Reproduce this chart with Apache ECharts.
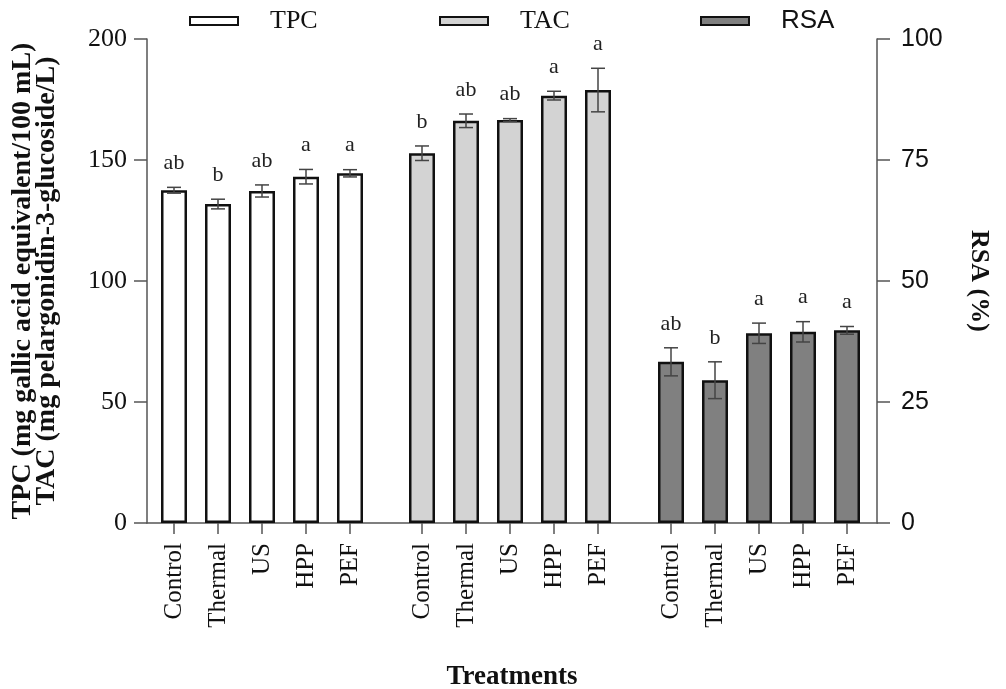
<!DOCTYPE html>
<html>
<head>
<meta charset="utf-8">
<script src="https://cdn.jsdelivr.net/npm/echarts@6/dist/echarts.min.js"></script>
<style>html,body{margin:0;padding:0;background:#fff;}#c{width:1006px;height:689px;}</style>
</head>
<body>
<div id="c"></div>
<script>
const categories = ['Control', 'Thermal', 'US', 'HPP', 'PEF'];
const tpcMean = [137.5, 131.8, 137.2, 143.1, 144.5];
const tpcErr = [1.2, 2.0, 2.5, 3.0, 1.5];
const tpcLetters = ['ab', 'b', 'ab', 'a', 'a'];
const tacMean = [152.8, 166.2, 166.5, 176.6, 178.9];
const tacErr = [3.0, 2.8, 0.6, 1.8, 9.0];
const tacLetters = ['b', 'ab', 'ab', 'a', 'a'];
const rsaMean = [33.3, 29.5, 39.2, 39.5, 39.8];
const rsaErr = [2.9, 3.8, 2.1, 2.1, 0.8];
const rsaLetters = ['ab', 'b', 'a', 'a', 'a'];
const leftTicks = [0, 50, 100, 150, 200];
const rightTicks = [0, 25, 50, 75, 100];

const SERIF = '"Liberation Serif", "Times New Roman", serif';
const SANS = '"Liberation Sans", Arial, sans-serif';
const AX = '#555';

function errSeries(name, means, errs, letters, axisIdx) {
  return {
    type: 'custom', name: name + '_err', xAxisIndex: axisIdx, yAxisIndex: axisIdx + 1, z: 5,
    data: means.map((m, i) => [i, m, errs[i]]),
    renderItem: function (params, api) {
      const i = api.value(0), m = api.value(1), e = api.value(2);
      const top = api.coord([i, m + e]);
      const bot = api.coord([i, m - e]);
      const cw = 7;
      const ls = { stroke: '#444', lineWidth: 1.5 };
      return {
        type: 'group',
        children: [
          { type: 'line', shape: { x1: top[0], y1: top[1], x2: bot[0], y2: bot[1] }, style: ls },
          { type: 'line', shape: { x1: top[0] - cw, y1: top[1], x2: top[0] + cw, y2: top[1] }, style: ls },
          { type: 'line', shape: { x1: bot[0] - cw, y1: bot[1], x2: bot[0] + cw, y2: bot[1] }, style: ls },
          { type: 'text', x: top[0], y: top[1] - 13,
            style: { text: letters[params.dataIndex], textAlign: 'center', textVerticalAlign: 'bottom',
              font: '22px ' + SERIF, fill: '#222' } }
        ]
      };
    }
  };
}

function catAxis(gi) {
  return {
    type: 'category', gridIndex: gi, data: categories,
    axisLine: { show: false },
    axisTick: { show: true, alignWithLabel: true, length: 11, lineStyle: { color: AX, width: 1.5 } },
    axisLabel: { rotate: 90, margin: 20, fontFamily: SERIF, fontSize: 25, color: '#111', interval: 0 }
  };
}
function hiddenY(gi, max) {
  return { type: 'value', gridIndex: gi, min: 0, max: max, show: false };
}
function barSeries(name, data, color, axisIdx) {
  return {
    type: 'bar', name: name, xAxisIndex: axisIdx, yAxisIndex: axisIdx + 1, barWidth: 26,
    data: data, z: 2,
    itemStyle: { color: color, borderColor: '#111', borderWidth: 2.5 }
  };
}
function legendFor(name, left, font) {
  return {
    data: [name], left: left, top: 3, itemWidth: 48, itemHeight: 8, icon: 'rect',
    itemStyle: { borderColor: '#111', borderWidth: 2 },
    textStyle: { fontFamily: font, fontSize: 26, color: '#111', padding: [0, 0, 0, 27] },
    selectedMode: false
  };
}

const chart = echarts.init(document.getElementById('c'), null, { renderer: 'canvas' });
chart.setOption({
  animation: false,
  backgroundColor: '#fff',
  legend: [legendFor('TPC', 184, SERIF), legendFor('TAC', 434, SERIF), legendFor('RSA', 695, SANS)],
  grid: [
    { left: 147, right: 129, top: 39, bottom: 166, outerBoundsMode: 'none', containLabel: false },
    { left: 152, width: 220, top: 39, bottom: 166, outerBoundsMode: 'none', containLabel: false },
    { left: 400, width: 220, top: 39, bottom: 166, outerBoundsMode: 'none', containLabel: false },
    { left: 649, width: 220, top: 39, bottom: 166, outerBoundsMode: 'none', containLabel: false }
  ],
  xAxis: [
    { type: 'value', gridIndex: 0, min: 0, max: 1, axisLine: { show: true, onZero: false, lineStyle: { color: AX, width: 1.5 } },
      axisTick: { show: false }, axisLabel: { show: false }, splitLine: { show: false },
      name: 'Treatments', nameLocation: 'middle', nameGap: 141,
      nameTextStyle: { fontFamily: SERIF, fontWeight: 'bold', fontSize: 27, color: '#111' } },
    catAxis(1), catAxis(2), catAxis(3)
  ],
  yAxis: [
    { type: 'value', gridIndex: 0, position: 'left', min: 0, max: 200, interval: 50,
      axisLine: { show: true, lineStyle: { color: AX, width: 1.5 } },
      axisTick: { show: true, length: 13, lineStyle: { color: AX, width: 1.5 } },
      axisLabel: { margin: 20, fontFamily: SERIF, fontSize: 26, color: '#111',
        formatter: v => leftTicks.indexOf(v) >= 0 ? String(v) : '' },
      splitLine: { show: false },
      name: 'TPC (mg gallic acid equivalent/100 mL)\nTAC (mg pelargonidin-3-glucoside/L)',
      nameLocation: 'middle', nameGap: 88, nameRotate: 90,
      nameTextStyle: { fontFamily: SERIF, fontWeight: 'bold', fontSize: 28, lineHeight: 24, color: '#111', align: 'center' } },
    { type: 'value', gridIndex: 0, position: 'right', min: 0, max: 100, interval: 25,
      axisLine: { show: true, lineStyle: { color: AX, width: 1.5 } },
      axisTick: { show: true, length: 13, lineStyle: { color: AX, width: 1.5 } },
      axisLabel: { margin: 24, fontFamily: SANS, fontSize: 25, color: '#111',
        formatter: v => rightTicks.indexOf(v) >= 0 ? String(v) : '' },
      splitLine: { show: false },
      name: 'RSA (%)', nameLocation: 'middle', nameGap: 89, nameRotate: -90,
      nameTextStyle: { fontFamily: SERIF, fontWeight: 'bold', fontSize: 26, color: '#111' } },
    hiddenY(1, 200), hiddenY(2, 200), hiddenY(3, 100)
  ],
  series: [
    barSeries('TPC', tpcMean, '#ffffff', 1),
    barSeries('TAC', tacMean, '#d3d3d3', 2),
    barSeries('RSA', rsaMean, '#808080', 3),
    errSeries('TPC', tpcMean, tpcErr, tpcLetters, 1),
    errSeries('TAC', tacMean, tacErr, tacLetters, 2),
    errSeries('RSA', rsaMean, rsaErr, rsaLetters, 3)
  ]
});
</script>
</body>
</html>
